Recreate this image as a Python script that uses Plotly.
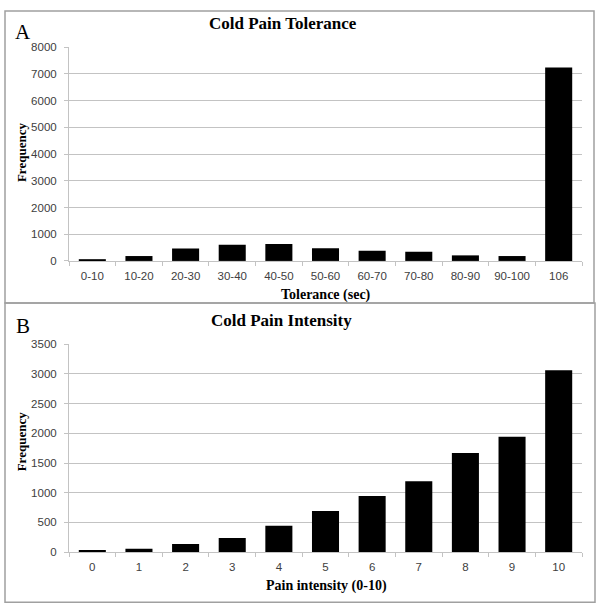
import plotly.graph_objects as go
from plotly.subplots import make_subplots

# panel A: cold pain tolerance
tolerance_bins = ["0-10", "10-20", "20-30", "30-40", "40-50", "50-60",
                  "60-70", "70-80", "80-90", "90-100", "106"]
tolerance_freq = [50, 183, 464, 610, 635, 476, 378, 342, 208, 183, 7240]

# panel B: cold pain intensity
intensity_levels = ["0", "1", "2", "3", "4", "5", "6", "7", "8", "9", "10"]
intensity_freq = [37, 59, 139, 240, 443, 694, 945, 1195, 1670, 1942, 3063]

W, H = 602, 615
GRID = "#c3c3c3"
SERIF = "Liberation Serif"
SANS = "Liberation Sans"


def px_x(x):
    return x / W


def px_y(y):
    return 1 - y / H


fig = make_subplots(rows=2, cols=1)
fig.add_trace(go.Bar(x=tolerance_bins, y=tolerance_freq, marker_color="black",
                     marker_line_width=0), row=1, col=1)
fig.add_trace(go.Bar(x=intensity_levels, y=intensity_freq, marker_color="black",
                     marker_line_width=0), row=2, col=1)

x_dom = [px_x(69), px_x(582)]
axis_common = dict(
    showline=True, linecolor=GRID, linewidth=1,
    ticks="outside", ticklen=4, tickcolor=GRID,
    tickfont=dict(family=SANS, size=11.5, color="#404040"),
)
x_common = dict(tickson="boundaries", showgrid=False, ticklabelstandoff=4, **axis_common)
y_common = dict(showgrid=True, gridcolor=GRID, zeroline=False, ticklabelstandoff=5, **axis_common)
fig.update_layout(
    xaxis=dict(domain=x_dom, anchor="y", **x_common),
    yaxis=dict(domain=[px_y(260), px_y(42)], anchor="x", range=[0, 8000], dtick=1000, **y_common),
    xaxis2=dict(domain=x_dom, anchor="y2", **x_common),
    yaxis2=dict(domain=[px_y(557), px_y(345)], anchor="x2", range=[0, 3500], dtick=500, **y_common),
)

texts = [
    ("<b>Cold Pain Tolerance</b>", 283, 18, 17, 0),
    ("<b>Cold Pain Intensity</b>", 281, 321, 17, 0),
    ("A", 23, 27, 21, 0),
    ("B", 23, 326, 21, 0),
    ("<b>Frequency</b>", 21, 150, 13, -90),
    ("<b>Frequency</b>", 21, 445, 13, -90),
    ("<b>Tolerance (sec)</b>", 326, 295, 14, 0),
    ("<b>Pain intensity (0-10)</b>", 326, 592, 14, 0),
]
annotations = []
for text, x, y, size, angle in texts:
    annotations.append(dict(
        text=text, x=px_x(x), y=px_y(y), xref="paper", yref="paper",
        xanchor="center", yanchor="middle", showarrow=False, textangle=angle,
        font=dict(family=SERIF, size=size, color="black"),
    ))

shapes = [
    dict(type="rect", xref="paper", yref="paper", x0=px_x(5), x1=px_x(594),
         y0=px_y(303), y1=px_y(5), line=dict(color="#a0a0a0", width=1.5)),
    dict(type="rect", xref="paper", yref="paper", x0=px_x(5), x1=px_x(595),
         y0=px_y(608), y1=px_y(303), line=dict(color="#a0a0a0", width=1.5)),
]

fig.update_layout(
    width=W, height=H,
    margin=dict(l=0, r=0, t=0, b=0),
    paper_bgcolor="white", plot_bgcolor="white",
    showlegend=False, bargap=0.42,
    annotations=annotations, shapes=shapes,
)

fig.write_html("out.html", config={"displayModeBar": False},
               post_script="document.body.style.margin='0';document.body.style.overflow='hidden';")
